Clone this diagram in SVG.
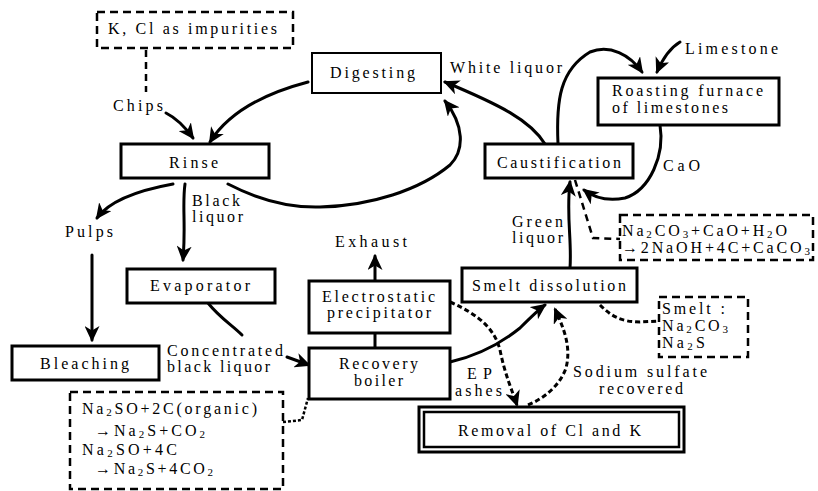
<svg xmlns="http://www.w3.org/2000/svg" width="818" height="491" viewBox="0 0 818 491" font-family="'Liberation Serif', 'DejaVu Serif', serif">
<style>
text{font-size:16px;fill:#000}
.box{fill:#fff;stroke:#000;stroke-width:3}
.thin{fill:#fff;stroke:#000;stroke-width:2}
.dbox{fill:none;stroke:#000;stroke-width:2.5;stroke-dasharray:8 5}
.c{fill:none;stroke:#000;stroke-width:3;stroke-linecap:round}
.a{marker-end:url(#ah)}
.dash{fill:none;stroke:#000;stroke-width:3;stroke-dasharray:5 3}
.dl{fill:none;stroke:#000;stroke-width:2.5;stroke-dasharray:7 5}
.dot{fill:none;stroke:#000;stroke-width:2.5;stroke-dasharray:3 2}
.s{font-size:11px}
</style>
<defs>
<marker id="ah" markerUnits="userSpaceOnUse" markerWidth="17" markerHeight="15" refX="14" refY="7.5" orient="auto">
<path d="M0,0 L16,7.5 L0,15 L4.5,7.5 z" fill="#000"/>
</marker>
</defs>
<rect width="818" height="491" fill="#fff"/>
<g id="connectors">
<path class="dl" d="M146,50 V92"/>
<path class="c a" d="M166,113 Q180,120 193,138"/>
<path class="c a" d="M308,82 C270,92 230,110 210,142"/>
<path class="c a" d="M228,184 C255,198 285,208 320,207 C370,206 420,190 450,165 C465,150 464,125 445,101"/>
<path class="c a" d="M173,184 C140,190 110,200 97,218"/>
<path class="c a" d="M185,184 C182,205 186,225 183,260"/>
<path class="c a" d="M92,255 V340"/>
<path class="c" d="M208,303 C220,318 232,325 242,335"/>
<path class="c a" d="M287,357 L309,365"/>
<path class="dot" d="M283,422 L302,420 L308,398"/>
<path class="c a" d="M375,281 V256"/>
<path class="c" d="M375,333 V348"/>
<path class="c a" d="M450,362 C480,355 505,340 520,328 C530,318 538,310 545,305"/>
<path class="dash a" d="M450,302 C480,315 495,330 500,350 C505,375 512,390 517,405"/>
<path class="dash a" d="M528,405 C545,398 560,385 566,368 C572,345 562,325 555,309"/>
<path class="dash" d="M600,305 C610,315 620,322 640,322 L659,321"/>
<path class="c a" d="M570,268 C572,240 566,215 570,182"/>
<path class="c a" d="M545,144 C530,120 500,105 445,82"/>
<path class="c a" d="M558,144 C556,100 560,70 590,52 C610,44 630,55 642,72"/>
<path class="c a" d="M680,42 C670,48 663,58 657,72"/>
<path class="c a" d="M660,125 C665,155 650,190 625,198 C605,202 592,196 584,190"/>
<path class="dl" d="M575,180 L593,238 L620,239"/>
</g>
<g id="impurities"><rect class="dbox" x="97" y="12" width="196" height="36"/><text x="108" y="34" textLength="169" lengthAdjust="spacing">K, Cl as impurities</text></g>
<g id="digesting"><rect class="thin" x="312" y="53" width="129" height="40"/><text x="330" y="78" textLength="85" lengthAdjust="spacing">Digesting</text></g>
<g id="rinse"><rect class="box" x="121" y="144" width="148" height="34"/><text x="169" y="168" textLength="49" lengthAdjust="spacing">Rinse</text></g>
<g id="evaporator"><rect class="box" x="127" y="269" width="148" height="34"/><text x="150" y="291" textLength="100" lengthAdjust="spacing">Evaporator</text></g>
<g id="bleaching"><rect class="box" x="12" y="346" width="147" height="34"/><text x="40" y="369" textLength="89" lengthAdjust="spacing">Bleaching</text></g>
<g id="recovery"><rect class="box" x="309" y="348" width="141" height="51"/><text x="339" y="369" textLength="79" lengthAdjust="spacing">Recovery</text><text x="354" y="386" textLength="49" lengthAdjust="spacing">boiler</text></g>
<g id="ep"><rect class="box" x="309" y="281" width="141" height="52"/><text x="322" y="302" textLength="113" lengthAdjust="spacing">Electrostatic</text><text x="327" y="318" textLength="104" lengthAdjust="spacing">precipitator</text></g>
<g id="smelt-dissolution"><rect class="box" x="462" y="268" width="175" height="34"/><text x="472" y="291" textLength="154" lengthAdjust="spacing">Smelt dissolution</text></g>
<g id="removal"><rect class="box" x="419" y="407" width="265" height="45"/><rect class="thin" x="424" y="412" width="255" height="35" style="stroke-width:2.5"/><text x="458" y="436" textLength="183" lengthAdjust="spacing">Removal of Cl and K</text></g>
<g id="caustification"><rect class="box" x="485" y="144" width="148" height="34"/><text x="497" y="168" textLength="124" lengthAdjust="spacing">Caustification</text></g>
<g id="roasting"><rect class="box" x="598" y="78" width="181" height="47"/><text x="612" y="96" textLength="151" lengthAdjust="spacing">Roasting furnace</text><text x="612" y="113" textLength="116" lengthAdjust="spacing">of limestones</text></g>
<g id="smelt"><rect class="dbox" x="659" y="297" width="89" height="60"/><text x="662" y="314" textLength="63" lengthAdjust="spacing">Smelt :</text><text x="662" y="331" textLength="66" lengthAdjust="spacing">Na<tspan class="s" dy="2">2</tspan><tspan dy="-2">CO</tspan><tspan class="s" dy="2">3</tspan></text><text x="662" y="348" textLength="43" lengthAdjust="spacing">Na<tspan class="s" dy="2">2</tspan><tspan dy="-2">S</tspan></text></g>
<g id="caustic-reaction"><rect class="dbox" x="620" y="215" width="193" height="45"/><text x="622" y="236" textLength="165" lengthAdjust="spacing">Na<tspan class="s" dy="2">2</tspan><tspan dy="-2">CO</tspan><tspan class="s" dy="2">3</tspan><tspan dy="-2">+CaO+H</tspan><tspan class="s" dy="2">2</tspan><tspan dy="-2">O</tspan></text><text x="622" y="253" textLength="188" lengthAdjust="spacing">→2NaOH+4C+CaCO<tspan class="s" dy="2">3</tspan></text></g>
<g id="boiler-reaction"><rect class="dbox" x="70" y="392" width="213" height="97"/><text x="82" y="414" textLength="175" lengthAdjust="spacing">Na<tspan class="s" dy="2">2</tspan><tspan dy="-2">SO+2C(organic)</tspan></text><text x="95" y="436" textLength="110" lengthAdjust="spacing">→Na<tspan class="s" dy="2">2</tspan><tspan dy="-2">S+CO</tspan><tspan class="s" dy="2">2</tspan></text><text x="82" y="455" textLength="95" lengthAdjust="spacing">Na<tspan class="s" dy="2">2</tspan><tspan dy="-2">SO+4C</tspan></text><text x="95" y="474" textLength="118" lengthAdjust="spacing">→Na<tspan class="s" dy="2">2</tspan><tspan dy="-2">S+4CO</tspan><tspan class="s" dy="2">2</tspan></text></g>
<g id="labels">
<text x="113" y="111" textLength="50" lengthAdjust="spacing">Chips</text>
<text x="192" y="206" textLength="48" lengthAdjust="spacing">Black</text>
<text x="192" y="222" textLength="51" lengthAdjust="spacing">liquor</text>
<text x="65" y="237" textLength="48" lengthAdjust="spacing">Pulps</text>
<text x="335" y="247" textLength="72" lengthAdjust="spacing">Exhaust</text>
<text x="167" y="356" textLength="116" lengthAdjust="spacing">Concentrated</text>
<text x="167" y="372" textLength="103" lengthAdjust="spacing">black liquor</text>
<text x="450" y="73" textLength="112" lengthAdjust="spacing">White liquor</text>
<text x="685" y="54" textLength="93" lengthAdjust="spacing">Limestone</text>
<text x="663" y="171" textLength="37" lengthAdjust="spacing">CaO</text>
<text x="512" y="227" textLength="51" lengthAdjust="spacing">Green</text>
<text x="512" y="243" textLength="51" lengthAdjust="spacing">liquor</text>
<text x="467" y="379" textLength="25" lengthAdjust="spacing">EP</text>
<text x="455" y="396" textLength="47" lengthAdjust="spacing">ashes</text>
<text x="573" y="377" textLength="134" lengthAdjust="spacing">Sodium sulfate</text>
<text x="599" y="394" textLength="84" lengthAdjust="spacing">recovered</text>
</g>
</svg>
